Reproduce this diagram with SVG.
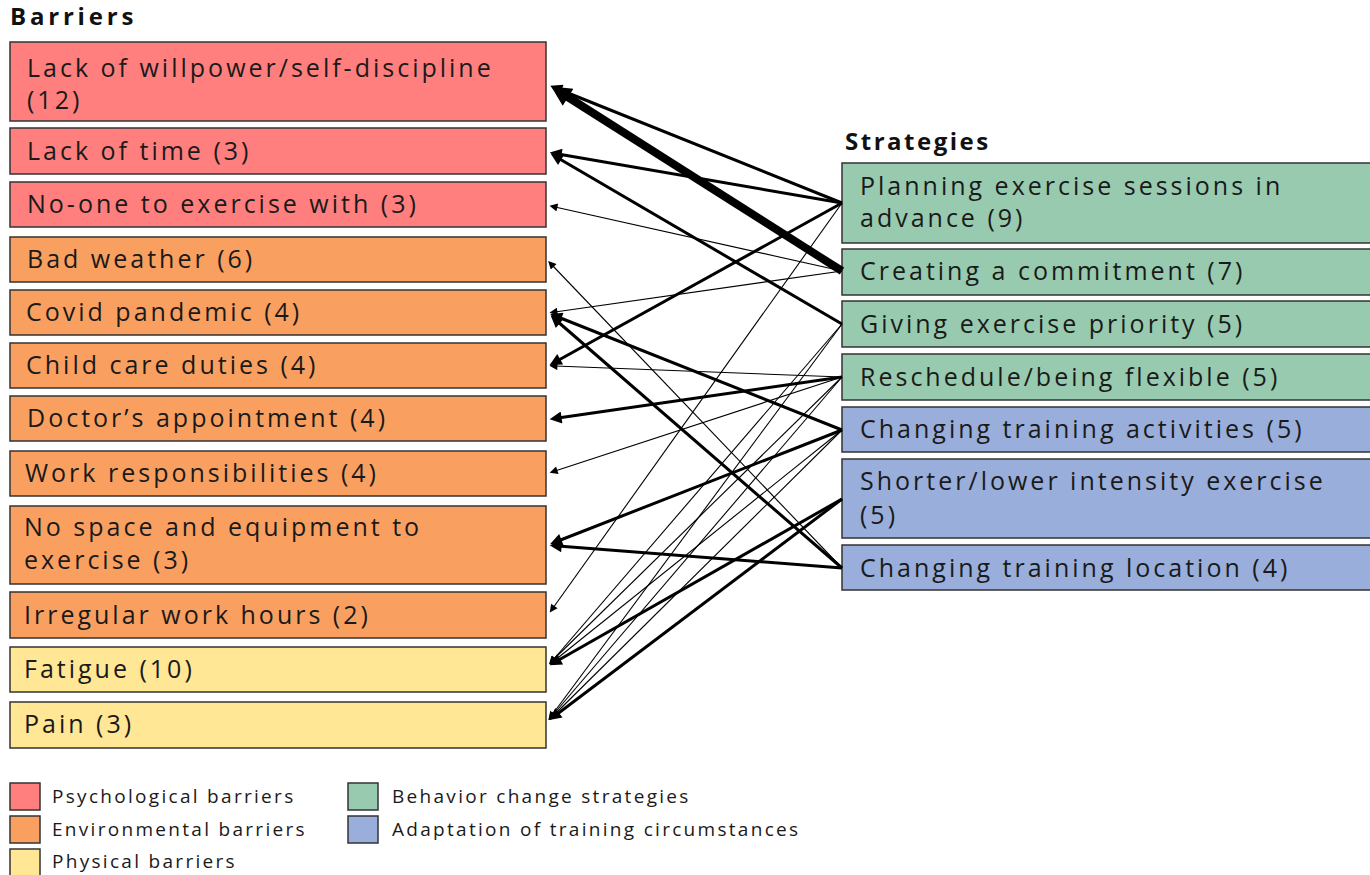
<svg xmlns="http://www.w3.org/2000/svg" width="1370" height="875" viewBox="0 0 1370 875">
  <style>
    .lbl { font-family: "Open Sans", "Liberation Sans", sans-serif; font-size: 25px; letter-spacing: 3px; fill: #1a1a1a; }
    .ttl { font-family: "Open Sans", "Liberation Sans", sans-serif; font-size: 24px; font-weight: bold; letter-spacing: 3.8px; fill: #111; }
    .leg { font-family: "Open Sans", "Liberation Sans", sans-serif; font-size: 19px; letter-spacing: 2.3px; fill: #1a1a1a; }
    .box { stroke: #333; stroke-width: 1.5; }
    .psy { fill: #FF7F7F; }
    .env { fill: #F9A061; }
    .phy { fill: #FFE796; }
    .beh { fill: #98CAAF; }
    .ada { fill: #99AEDB; }
    .ln { stroke: #000; fill: none; stroke-linecap: butt; }
    .s { stroke-width: 1.1; marker-end: url(#arrS); }
    .m { stroke-width: 3; marker-end: url(#arrM); }
  </style>
  <defs>
    <marker id="arrS" viewBox="0 0 10 10" refX="3" refY="5" markerUnits="userSpaceOnUse" markerWidth="10" markerHeight="8" orient="auto">
      <path d="M0,0 L10,5 L0,10 z" fill="#000"/>
    </marker>
    <marker id="arrM" viewBox="0 0 10 10" refX="3" refY="5" markerUnits="userSpaceOnUse" markerWidth="15" markerHeight="12" orient="auto">
      <path d="M0,0 L10,5 L0,10 z" fill="#000"/>
    </marker>
    <marker id="arrL" viewBox="0 0 10 10" refX="3" refY="5" markerUnits="userSpaceOnUse" markerWidth="24" markerHeight="20" orient="auto">
      <path d="M0,0 L10,5 L0,10 z" fill="#000"/>
    </marker>
  </defs>
  <rect width="1370" height="875" fill="#fff"/>

  <!-- Column titles -->
  <text class="ttl" x="10" y="25">Barriers</text>
  <text class="ttl" x="845" y="150" style="letter-spacing:2.5px">Strategies</text>

  <!-- Barriers -->
  <g id="b-willpower"><rect class="box psy" x="10" y="42" width="536" height="79"/><text class="lbl" x="27" y="77">Lack of willpower/self-discipline</text><text class="lbl" x="27" y="109">(12)</text></g>
  <g id="b-time"><rect class="box psy" x="10" y="128" width="536" height="46"/><text class="lbl" x="27" y="160">Lack of time (3)</text></g>
  <g id="b-noone"><rect class="box psy" x="10" y="182" width="536" height="45"/><text class="lbl" x="27" y="213">No-one to exercise with (3)</text></g>
  <g id="b-weather"><rect class="box env" x="10" y="237" width="536" height="45"/><text class="lbl" x="27" y="268">Bad weather (6)</text></g>
  <g id="b-covid"><rect class="box env" x="10" y="290" width="536" height="45"/><text class="lbl" x="26" y="321">Covid pandemic (4)</text></g>
  <g id="b-childcare"><rect class="box env" x="10" y="343" width="536" height="45"/><text class="lbl" x="26" y="374">Child care duties (4)</text></g>
  <g id="b-doctor"><rect class="box env" x="10" y="396" width="536" height="45"/><text class="lbl" x="27" y="427">Doctor’s appointment (4)</text></g>
  <g id="b-work"><rect class="box env" x="10" y="451" width="536" height="45"/><text class="lbl" x="25" y="482">Work responsibilities (4)</text></g>
  <g id="b-space"><rect class="box env" x="10" y="506" width="536" height="78"/><text class="lbl" x="24" y="536">No space and equipment to</text><text class="lbl" x="24" y="569">exercise (3)</text></g>
  <g id="b-irregular"><rect class="box env" x="10" y="592" width="536" height="46"/><text class="lbl" x="24" y="624">Irregular work hours (2)</text></g>
  <g id="b-fatigue"><rect class="box phy" x="10" y="647" width="536" height="45"/><text class="lbl" x="24" y="678">Fatigue (10)</text></g>
  <g id="b-pain"><rect class="box phy" x="10" y="702" width="536" height="46"/><text class="lbl" x="24" y="733">Pain (3)</text></g>

  <!-- Strategies -->
  <g id="s-planning"><rect class="box beh" x="842" y="163" width="540" height="80"/><text class="lbl" x="860" y="195">Planning exercise sessions in</text><text class="lbl" x="860" y="227">advance (9)</text></g>
  <g id="s-commitment"><rect class="box beh" x="842" y="249" width="540" height="46"/><text class="lbl" x="860" y="280">Creating a commitment (7)</text></g>
  <g id="s-priority"><rect class="box beh" x="842" y="301" width="540" height="46"/><text class="lbl" x="860" y="333">Giving exercise priority (5)</text></g>
  <g id="s-reschedule"><rect class="box beh" x="842" y="354" width="540" height="46"/><text class="lbl" x="860" y="386">Reschedule/being flexible (5)</text></g>
  <g id="s-activities"><rect class="box ada" x="842" y="407" width="540" height="45"/><text class="lbl" x="860" y="438">Changing training activities (5)</text></g>
  <g id="s-shorter"><rect class="box ada" x="842" y="459" width="540" height="79"/><text class="lbl" x="860" y="490">Shorter/lower intensity exercise</text><text class="lbl" x="860" y="524">(5)</text></g>
  <g id="s-location"><rect class="box ada" x="842" y="545" width="540" height="45"/><text class="lbl" x="860" y="577">Changing training location (4)</text></g>

  <!-- Connectors: strategy (right) to barrier (left) -->
  <g id="connectors">
    <line class="ln" x1="842" y1="271" x2="563" y2="94" stroke-width="8" marker-end="url(#arrL)"/>
    <line class="ln m" x1="842" y1="203" x2="558" y2="89" stroke-width="3.2"/>
    <line class="ln m" x1="842" y1="203" x2="558" y2="154" stroke-width="2.5"/>
    <line class="ln m" x1="842" y1="324" x2="558" y2="158" stroke-width="2.5"/>
    <line class="ln s" x1="842" y1="271" x2="555" y2="207"/>
    <line class="ln s" x1="842" y1="568" x2="552" y2="265"/>
    <line class="ln s" x1="842" y1="271" x2="555" y2="312" stroke-width="1.3"/>
    <line class="ln m" x1="842" y1="430" x2="558" y2="317"/>
    <line class="ln m" x1="842" y1="568" x2="557" y2="321"/>
    <line class="ln m" x1="842" y1="203" x2="557" y2="361"/>
    <line class="ln s" x1="842" y1="377" x2="555" y2="366" stroke-width="1.5"/>
    <line class="ln m" x1="842" y1="377" x2="558" y2="418"/>
    <line class="ln s" x1="842" y1="377" x2="555" y2="471"/>
    <line class="ln m" x1="842" y1="430" x2="558" y2="541"/>
    <line class="ln m" x1="842" y1="568" x2="558" y2="546"/>
    <line class="ln s" x1="842" y1="203" x2="553" y2="608"/>
    <line class="ln m" x1="842" y1="499" x2="557" y2="661" stroke-width="3.5"/>
    <line class="ln m" x1="842" y1="499" x2="556" y2="715" stroke-width="3.5"/>
    <line class="ln s" x1="842" y1="324" x2="553" y2="660"/>
    <line class="ln s" x1="842" y1="324" x2="552" y2="715"/>
    <line class="ln s" x1="842" y1="377" x2="553" y2="660"/>
    <line class="ln s" x1="842" y1="377" x2="552" y2="716"/>
    <line class="ln s" x1="842" y1="430" x2="554" y2="661"/>
    <line class="ln s" x1="842" y1="430" x2="553" y2="716"/>
  </g>

  <!-- Legend -->
  <g id="legend">
    <rect class="box psy" x="10" y="783" width="30" height="27"/><text class="leg" x="52" y="803">Psychological barriers</text>
    <rect class="box env" x="10" y="816" width="30" height="27"/><text class="leg" x="52" y="836">Environmental barriers</text>
    <rect class="box phy" x="10" y="849" width="30" height="27"/><text class="leg" x="52" y="868">Physical barriers</text>
    <rect class="box beh" x="348" y="783" width="30" height="27"/><text class="leg" x="392" y="803">Behavior change strategies</text>
    <rect class="box ada" x="348" y="816" width="30" height="27"/><text class="leg" x="392" y="836">Adaptation of training circumstances</text>
  </g>
</svg>
